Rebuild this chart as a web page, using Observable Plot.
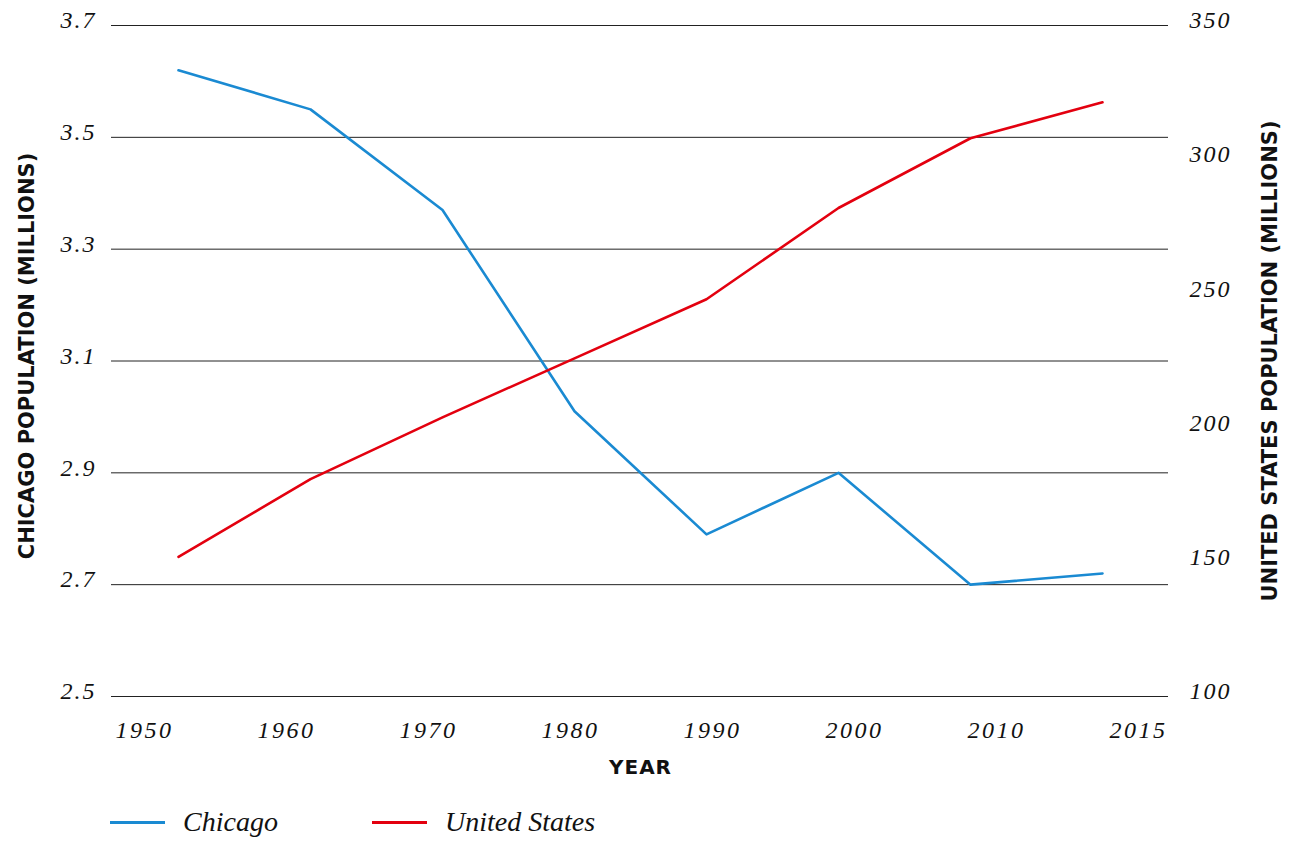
<!DOCTYPE html>
<html>
<head>
<meta charset="utf-8">
<script src="https://cdn.jsdelivr.net/npm/d3@7"></script>
<script src="https://cdn.jsdelivr.net/npm/@observablehq/plot@0.6"></script>
<style>
  html, body { margin: 0; padding: 0; background: #fff; }
  #wrap { position: relative; width: 1303px; height: 841px; overflow: hidden; }
  #wrap svg { position: absolute; left: 0; }
  #wrap svg g[font-weight="bold"] { letter-spacing: 0; }
  .xtitle { position: absolute; top: 755px; left: 112px; width: 1057px; text-align: center;
    font-family: "DejaVu Sans", sans-serif; font-weight: bold; font-size: 20px; letter-spacing: 1px; color: #111; }
  .legend { position: absolute; top: 804px; left: 0; width: 1303px; height: 36px;
    font-family: "Liberation Serif", serif; font-style: italic; font-size: 28px; color: #111; }
  .legend .sw { position: absolute; top: 17px; width: 55px; height: 3px; }
  .legend .lb { position: absolute; top: 0; line-height: 36px; }
</style>
</head>
<body>
<div id="wrap"></div>
<script>
// ---- data ----
const years = ["1950", "1960", "1970", "1980", "1990", "2000", "2010", "2015"];
const chicago = [3.62, 3.55, 3.37, 3.01, 2.79, 2.90, 2.70, 2.72];
const unitedStates = [152, 181, 204, 226, 248, 282, 308, 321.4];
const chicagoTicks = [2.5, 2.7, 2.9, 3.1, 3.3, 3.5, 3.7];
const usTicks = [100, 150, 200, 250, 300, 350];
const seriesNames = ["Chicago", "United States"];
const seriesColors = ["#1a8ad2", "#e3000f"];

// map US values onto the Chicago (left) scale
const toChi = d3.scaleLinear([100, 350], [2.5, 3.7]);

const chiRows = years.map((y, i) => ({year: y, value: chicago[i]}));
const usRows = years.map((y, i) => ({year: y, value: unitedStates[i]}));

const serif = "'Liberation Serif', 'DejaVu Serif', serif";
const sans = "'DejaVu Sans', sans-serif";

const main = Plot.plot({
  width: 1303,
  height: 712,
  marginLeft: 111,
  marginRight: 135,
  marginTop: 25,
  marginBottom: 16,
  style: {fontFamily: serif, fontStyle: "italic", fontSize: "24px", letterSpacing: "2px", color: "#111", background: "transparent"},
  x: {type: "point", domain: years, padding: 0.5, axis: null},
  y: {domain: [2.5, 3.7]},
  marks: [
    Plot.ruleY(chicagoTicks, {stroke: "#222", strokeWidth: 1}),
    Plot.axisY({ticks: chicagoTicks, tickSize: 0, tickPadding: 15, tickFormat: d => d.toFixed(1), dy: -5, label: null}),
    Plot.text(usTicks, {y: d => toChi(d), text: d => String(d), frameAnchor: "right", textAnchor: "start", dx: 21, dy: -5}),
    Plot.line(chiRows, {x: "year", y: "value", stroke: seriesColors[0], strokeWidth: 2.6}),
    Plot.line(usRows, {x: "year", y: d => toChi(d.value), stroke: seriesColors[1], strokeWidth: 2.6}),
    Plot.text(["CHICAGO POPULATION (MILLIONS)"], {frameAnchor: "left", textAnchor: "middle", rotate: -90, dx: -84, dy: -5,
      fontFamily: sans, fontWeight: "bold", fontStyle: "normal", fontSize: 21, fill: "#111"}),
    Plot.text(["UNITED STATES POPULATION (MILLIONS)"], {frameAnchor: "right", textAnchor: "middle", rotate: -90, dx: 102,
      fontFamily: sans, fontWeight: "bold", fontStyle: "normal", fontSize: 21, fill: "#111"})
  ]
});
main.style.top = "0px";

const xlabels = Plot.plot({
  width: 1303,
  height: 40,
  marginTop: 0,
  marginBottom: 0,
  marginLeft: 0,
  marginRight: 0,
  style: {fontFamily: serif, fontStyle: "italic", fontSize: "24px", letterSpacing: "2.5px", color: "#111", background: "transparent"},
  x: {type: "point", domain: years, range: [142, 1139], padding: 0, axis: null},
  marks: [
    Plot.text(years, {x: d => d, text: d => d, frameAnchor: "middle"})
  ]
});
xlabels.style.top = "710px";

const wrap = document.getElementById("wrap");
wrap.appendChild(main);
wrap.appendChild(xlabels);

const xt = document.createElement("div");
xt.className = "xtitle";
xt.textContent = "YEAR";
wrap.appendChild(xt);

const lg = document.createElement("div");
lg.className = "legend";
const swX = [110, 372];
const lbX = [183, 445];
seriesNames.forEach((n, i) => {
  const s = document.createElement("div");
  s.className = "sw";
  s.style.left = swX[i] + "px";
  s.style.background = seriesColors[i];
  lg.appendChild(s);
  const t = document.createElement("div");
  t.className = "lb";
  t.style.left = lbX[i] + "px";
  t.textContent = n;
  lg.appendChild(t);
});
wrap.appendChild(lg);
</script>
</body>
</html>
